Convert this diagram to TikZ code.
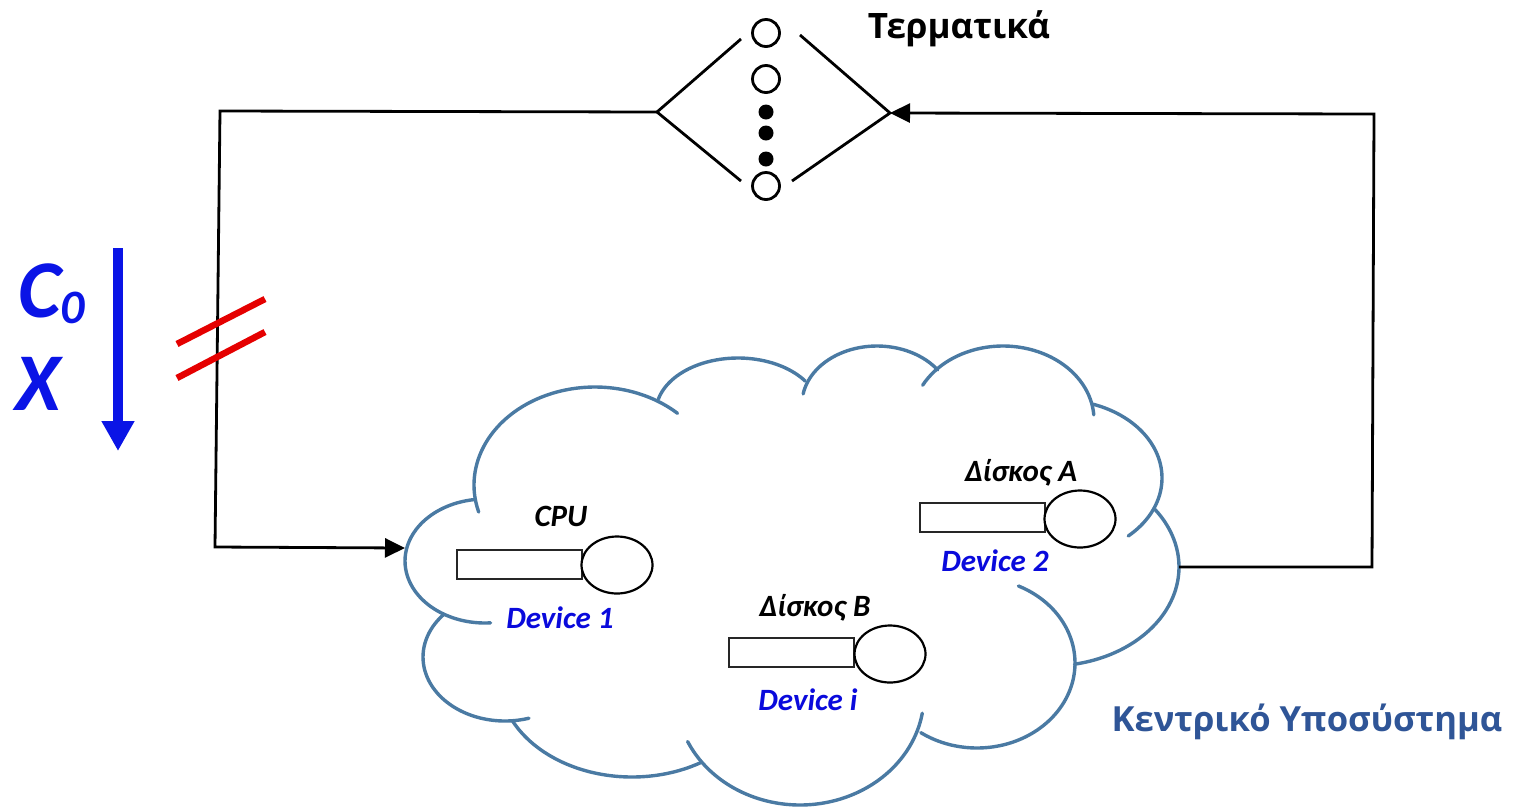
\documentclass[tikz,border=0pt]{standalone}
\usepackage{fontspec}
\setmainfont{Carlito}
\newfontfamily\osans{Open Sans}
\usetikzlibrary{arrows.meta,shapes.geometric}
\definecolor{cloudblue}{HTML}{4A7AA3}
\definecolor{titleblue}{HTML}{2F5597}
\definecolor{devblue}{HTML}{0A0ADC}
\definecolor{flowblue}{HTML}{0A14E6}
\tikzset{
  cloudarc/.style={draw=cloudblue,line width=3.4pt,line cap=round},
  wire/.style={draw=black,line width=2.8pt},
  arrowwire/.style={wire,-{Triangle[length=20pt,width=19pt]}},
  diamedge/.style={draw=black,line width=2.8pt},
  queuebox/.style={draw=black!85,line width=2pt,fill=white,minimum width=125pt,minimum height=29pt,inner sep=0pt},
  server/.style={draw=black,line width=2.2pt,fill=white,ellipse,minimum width=71pt,minimum height=57pt,inner sep=0pt},
  terminal/.style={draw=black,line width=2.8pt,fill=white,circle,minimum size=27pt,inner sep=0pt},
  dotnode/.style={fill=black,circle,minimum size=15pt,inner sep=0pt},
  devlabel/.style={text=devblue,font=\fontsize{31}{32}\selectfont\bfseries\itshape,inner sep=0pt},
  stationlabel/.style={text=black,font=\fontsize{31}{32}\selectfont\bfseries\itshape,inner sep=0pt},
  flowlabel/.style={text=flowblue,font=\fontsize{82}{82}\selectfont\bfseries\itshape,inner sep=0pt},
  titlelabel/.style={font=\fontsize{35}{36}\selectfont\osans\bfseries,inner sep=0pt},
  tally/.style={draw=red!90!black,line width=6.5pt}
}
% centre x, centre y, radius x, radius y, first angle, last angle (y grows downward)
\newcommand{\cloudlobe}[6]{\draw[cloudarc] plot[smooth,samples=48,domain=#5:#6] ({#1+#3*cos(\x)},{#2+#4*sin(\x)});}
\begin{document}
\begin{tikzpicture}[x=1pt,y=-1pt]
\useasboundingbox (0,0) rectangle (1515,807);
\fill[white] (0,0) rectangle (1515,807);

% cloud
\cloudlobe{595}{485}{121}{98}{164}{313}
\cloudlobe{485}{561}{80}{62}{86}{263}
\cloudlobe{505}{657}{82}{64}{73}{221}
\cloudlobe{632}{677}{133}{100}{59}{154}
\cloudlobe{800}{695}{124}{110}{9.5}{155}
\cloudlobe{977}{663}{98}{85}{-65}{125}
\cloudlobe{1050}{567}{129}{99}{-35.5}{79}
\cloudlobe{1060}{478}{102}{78}{-71}{48}
\cloudlobe{1003}{420}{91}{74}{208}{356}
\cloudlobe{877}{404}{75}{58}{190}{324}
\cloudlobe{738}{412}{82}{54}{194}{325}

% junctions
\coordinate (diamL) at (657,112);
\coordinate (diamR) at (890,113);
\coordinate (diamUL) at (741,39);
\coordinate (diamLL) at (741,181);
\coordinate (diamUR) at (800,35);
\coordinate (diamLR) at (792,181);
\coordinate (cloudIn) at (405,548);
\coordinate (cloudOut) at (1179,567);
\coordinate (cornerTL) at (220,111);
\coordinate (cornerBL) at (215,547);
\coordinate (cornerBR) at (1372,567);
\coordinate (cornerTR) at (1374,114);

% terminals
\node[terminal] (t1) at (766,33) {};
\node[terminal] (t2) at (766,79) {};
\node[dotnode] (d1) at (766,112) {};
\node[dotnode] (d2) at (766,133) {};
\node[dotnode] (d3) at (766,159) {};
\node[terminal] (t3) at (766,186) {};
\draw[diamedge] (diamUL) -- (diamL) -- (diamLL);
\draw[diamedge] (diamUR) -- (diamR) -- (diamLR);

% wires
\draw[arrowwire] (diamL) -- (cornerTL) -- (cornerBL) -- (cloudIn);
\draw[arrowwire] (cloudOut) -- (cornerBR) -- (cornerTR) -- (diamR);

% stations
\node[queuebox] (q1) at (519.5,564) {};
\node[server] (s1) at (617,565) {};
\node[queuebox] (q2) at (982.5,517.5) {};
\node[server] (s2) at (1080,519) {};
\node[queuebox] (q3) at (791.5,652.5) {};
\node[server] (s3) at (890,654) {};

% labels
\node[stationlabel,anchor=base] (lcpu) at (561,526) {CPU};
\node[stationlabel,anchor=base] (ldiskA) at (1021,481) {Δίσκος Α};
\node[stationlabel,anchor=base] (ldiskB) at (815,616) {Δίσκος Β};
\node[devlabel,anchor=base] (ldev1) at (560,628) {Device 1};
\node[devlabel,anchor=base] (ldev2) at (995,571) {Device 2};
\node[devlabel,anchor=base] (ldevi) at (808,710) {Device i};
\node[titlelabel,anchor=base,text=black] (lterm) at (959,38.5) {Τερματικά};
\node[titlelabel,anchor=base,text=titleblue,font=\fontsize{34.6}{36}\selectfont\osans\bfseries] (lcent) at (1307,731) {Κεντρικό Υποσύστημα};

% flow
\node[flowlabel,anchor=base west] (lc) at (18,317) {C\raisebox{-0.08em}{\fontsize{48}{50}\selectfont 0}};
\node[flowlabel,anchor=base west] (lx) at (15,410) {X};
\coordinate (flowTop) at (118,248);
\coordinate (flowTip) at (118,451);
\draw[draw=flowblue,line width=10pt,-{Triangle[length=30pt,width=31pt]}] (flowTop) -- (flowTip);

% tally
\coordinate (ta1) at (177,344);
\coordinate (ta2) at (265,299);
\coordinate (tb1) at (177,378);
\coordinate (tb2) at (265,332);
\draw[tally] (ta1) -- (ta2);
\draw[tally] (tb1) -- (tb2);
\end{tikzpicture}
\end{document}
